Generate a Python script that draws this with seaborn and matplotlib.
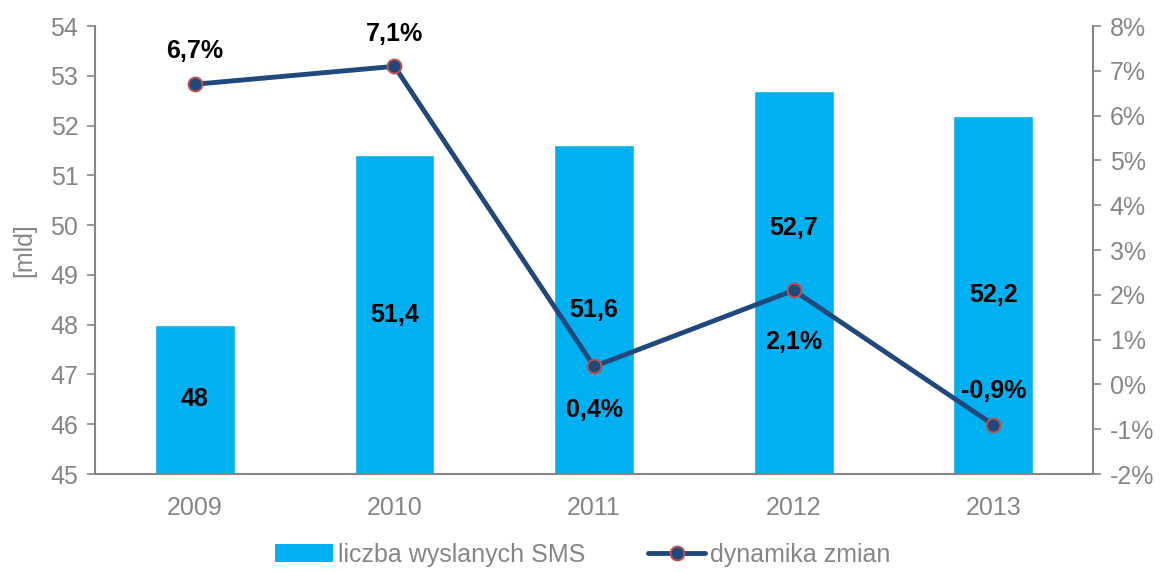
import numpy as np
import pandas as pd
import matplotlib
matplotlib.use("Agg")
import matplotlib.pyplot as plt
from matplotlib.ticker import FuncFormatter, FixedLocator
from matplotlib.lines import Line2D
from matplotlib.patches import Patch
import seaborn as sns

years = ["2009", "2010", "2011", "2012", "2013"]
sms_mld = [48, 51.4, 51.6, 52.7, 52.2]
sms_labels = ["48", "51,4", "51,6", "52,7", "52,2"]
dynamics = [6.7, 7.1, 0.4, 2.1, -0.9]
dyn_labels = ["6,7%", "7,1%", "0,4%", "2,1%", "-0,9%"]

bar_color = "#00B0F0"
line_color = "#1F497D"
edge_color = "#C0504D"
grey = "#868686"

sns.set_style("white")
plt.rcParams["font.family"] = ["Liberation Sans", "DejaVu Sans"]

fig = plt.figure(figsize=(11.66, 5.72), dpi=100)
ax = fig.add_axes([0.0815, 0.1713, 0.856, 0.7832])

df = pd.DataFrame({"rok": years, "sms": sms_mld})
sns.barplot(data=df, x="rok", y="sms", color=bar_color, width=0.4,
            saturation=1, ax=ax)
ax.set_ylim(45, 54)
ax.set_xlim(-0.5, len(years) - 0.5)
ax.set_yticks(np.arange(45, 55, 1))
ax.set_ylabel("[mld]", color=grey, fontsize=18, labelpad=10)
ax.set_xlabel("")

# bar value labels in the middle of the bar (2012 moved up, above the line)
for i, (v, lab) in enumerate(zip(sms_mld, sms_labels)):
    yy = (45 + v) / 2
    if i == 3:
        yy = 49.95
    ax.text(i, yy, lab, ha="center", va="center", fontsize=18,
            fontweight="bold", color="black")

ax2 = ax.twinx()
pos = np.arange(len(years))
sns.lineplot(x=pos, y=dynamics, color=line_color, linewidth=3.5, marker="o",
             markersize=10, markerfacecolor=line_color,
             markeredgecolor=edge_color, markeredgewidth=1.4, ax=ax2)
ax2.set_ylim(-2, 8)
ax2.set_yticks(np.arange(-2, 9, 1))
ax2.yaxis.set_major_formatter(FuncFormatter(lambda v, p: f"{int(round(v))}%"))
ax2.set_xlim(-0.5, len(years) - 0.5)

offsets = [0.75, 0.72, -0.98, -1.15, 0.75]
for i, (v, lab, o) in enumerate(zip(dynamics, dyn_labels, offsets)):
    ax2.text(i, v + o, lab, ha="center", va="center", fontsize=18,
             fontweight="bold", color="black")

# x ticks between categories
ax.set_xticks(pos)
ax.set_xticklabels(years)
ax.xaxis.set_minor_locator(FixedLocator(np.arange(-0.5, len(years), 1)))
ax.tick_params(axis="x", which="major", length=0, pad=16,
               labelsize=18, labelcolor=grey)
ax.tick_params(axis="x", which="minor", length=6, width=1.2, color=grey,
               direction="out")
ax.tick_params(axis="y", length=6, width=1.2, color=grey, direction="out",
               labelsize=18, labelcolor=grey, left=True, pad=6)
ax2.tick_params(axis="y", length=6, width=1.2, color=grey, direction="out",
                labelsize=18, labelcolor=grey, right=True, pad=6)

for a in (ax, ax2):
    a.spines["top"].set_visible(False)
    for s in ("left", "right", "bottom"):
        a.spines[s].set_color(grey)
        a.spines[s].set_linewidth(1.5)
ax.spines["right"].set_visible(False)
ax2.spines["left"].set_visible(False)
ax2.spines["bottom"].set_visible(False)
ax2.set_ylabel("")

handles = [
    Patch(facecolor=bar_color, edgecolor="none", label="liczba wyslanych SMS"),
    Line2D([0], [0], color=line_color, linewidth=3.5, marker="o", markersize=10,
           markerfacecolor=line_color, markeredgecolor=edge_color,
           markeredgewidth=1.4, label="dynamika zmian"),
]
leg = fig.legend(handles=handles, loc="center", bbox_to_anchor=(0.5, 0.03),
                 ncol=2, frameon=False, fontsize=18, handlelength=2.3,
                 handletextpad=0.2, columnspacing=2.5)
for t in leg.get_texts():
    t.set_color(grey)

fig.savefig("out.png", dpi=100)
